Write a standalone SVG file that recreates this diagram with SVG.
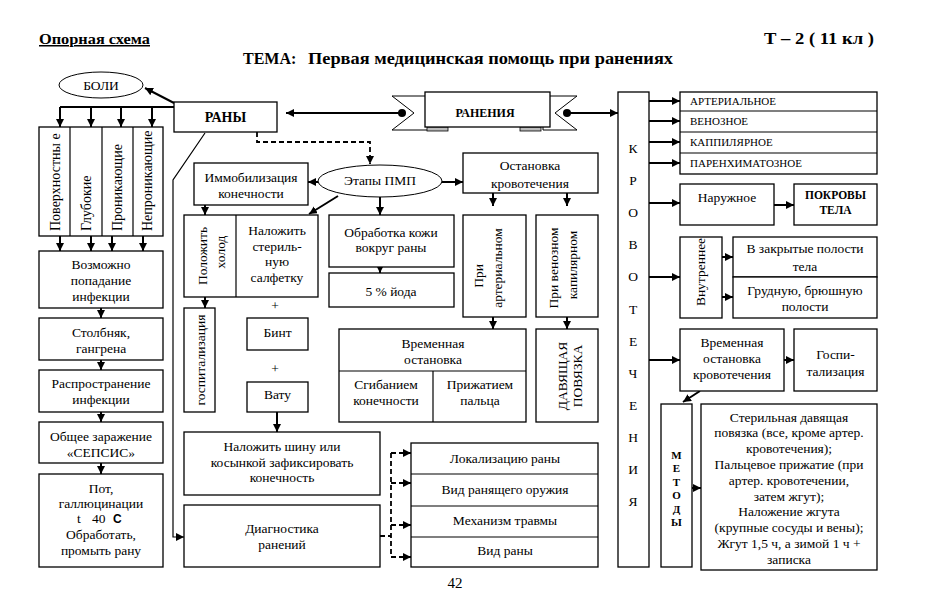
<svg xmlns="http://www.w3.org/2000/svg" width="926" height="591" viewBox="0 0 926 591">
<defs>
<marker id="ah" markerUnits="userSpaceOnUse" markerWidth="9" markerHeight="8" refX="8" refY="4" orient="auto"><path d="M0,0 L8,4 L0,8 z" fill="#000"/></marker>
<marker id="dot" markerUnits="userSpaceOnUse" markerWidth="10" markerHeight="10" refX="5" refY="5"><circle cx="5" cy="5" r="4" fill="#000"/></marker>
<style>
.b{fill:#fff;stroke:#000;stroke-width:1.3}
.t{font-size:13.5px;text-anchor:middle;fill:#000}
.s{font-size:11px;fill:#000}
.bd{font-weight:bold}
.c{stroke:#000;stroke-width:2;fill:none;marker-end:url(#ah)}
.l{stroke:#000;stroke-width:1.2;fill:none}
.d{stroke:#000;stroke-width:1.8;fill:none;stroke-dasharray:5,3}
.dm{marker-end:url(#ah)}
</style>
</defs>
<rect width="926" height="591" fill="#fff"/>
<g font-family="Liberation Serif, Tinos, Times New Roman, DejaVu Serif, Noto Serif, serif">

<g id="header">
<text x="39" y="44" class="t bd" style="text-anchor:start;font-size:15px;text-decoration:underline" textLength="111" lengthAdjust="spacingAndGlyphs">Опорная схема</text>
<text x="764" y="44" class="t bd" style="text-anchor:start;font-size:16px" textLength="110" lengthAdjust="spacingAndGlyphs">Т –  2 ( 11 кл )</text>
<text x="243" y="64" class="t bd" style="text-anchor:start;font-size:16px">ТЕМА:</text>
<text x="308" y="64" class="t bd" style="text-anchor:start;font-size:17px" textLength="365" lengthAdjust="spacingAndGlyphs">Первая медицинская помощь при ранениях</text>
<text x="455" y="588" class="t" style="font-size:15px">42</text>
</g>

<g id="connectors">
<line x1="174" y1="103" x2="145" y2="88" class="c"/>
<line x1="60" y1="107" x2="174" y2="107" class="l" style="stroke-width:2"/>
<line x1="60" y1="107" x2="60" y2="127" class="c"/>
<line x1="91" y1="107" x2="91" y2="127" class="c"/>
<line x1="121" y1="107" x2="121" y2="127" class="c"/>
<line x1="152" y1="107" x2="152" y2="127" class="c"/>
<line x1="60" y1="236" x2="60" y2="251" class="c"/>
<line x1="91" y1="236" x2="91" y2="251" class="c"/>
<line x1="112" y1="236" x2="112" y2="251" class="c"/>
<line x1="143" y1="236" x2="143" y2="251" class="c"/>
<line x1="101" y1="308" x2="101" y2="318" class="c"/>
<line x1="101" y1="360" x2="101" y2="370" class="c"/>
<line x1="101" y1="412" x2="101" y2="422" class="c"/>
<line x1="101" y1="463" x2="101" y2="474" class="c"/>
<polyline points="205,133 173,180 173,537 184,537" class="l dm"/>
<polyline points="257,132 257,142 370,142 370,164" class="d dm"/>
<line x1="402" y1="113" x2="286" y2="113" class="c" style="marker-start:url(#dot)"/>
<line x1="567" y1="113" x2="618" y2="113" class="c" style="marker-start:url(#dot)"/>
<line x1="318" y1="182" x2="308" y2="182" class="c"/>
<line x1="442" y1="182" x2="463" y2="182" class="c"/>
<line x1="380" y1="196" x2="380" y2="215" class="c"/>
<line x1="338" y1="196" x2="309" y2="214" class="c"/>
<line x1="205" y1="205" x2="205" y2="215" class="c"/>
<line x1="205" y1="297" x2="205" y2="308" class="c"/>
<line x1="380" y1="267" x2="380" y2="273" class="c"/>
<line x1="493" y1="193" x2="493" y2="206" class="c"/>
<line x1="567" y1="193" x2="567" y2="206" class="c"/>
<line x1="493" y1="317" x2="493" y2="329" class="c"/>
<line x1="567" y1="317" x2="567" y2="329" class="c"/>
<line x1="277" y1="412" x2="277" y2="432" class="c"/>
<line x1="380" y1="536" x2="391" y2="536" class="d"/>
<line x1="391" y1="453" x2="391" y2="557" class="d"/>
<line x1="391" y1="453" x2="411" y2="453" class="d dm"/>
<line x1="391" y1="483" x2="411" y2="483" class="d dm"/>
<line x1="391" y1="525" x2="411" y2="525" class="d dm"/>
<line x1="391" y1="557" x2="411" y2="557" class="d dm"/>
<line x1="649" y1="101" x2="680" y2="101" class="c"/>
<line x1="649" y1="121" x2="680" y2="121" class="c"/>
<line x1="649" y1="142" x2="680" y2="142" class="c"/>
<line x1="649" y1="163" x2="680" y2="163" class="c"/>
<line x1="649" y1="203" x2="680" y2="203" class="c"/>
<line x1="649" y1="277" x2="680" y2="277" class="c"/>
<line x1="649" y1="360" x2="680" y2="360" class="c"/>
<line x1="774" y1="205" x2="794" y2="205" class="c"/>
<line x1="722" y1="257" x2="733" y2="257" class="c"/>
<line x1="722" y1="297" x2="733" y2="297" class="c"/>
<line x1="784" y1="360" x2="794" y2="360" class="c"/>
<line x1="700" y1="391" x2="683" y2="402" class="c"/>
<line x1="692" y1="488" x2="701" y2="488" class="c"/>
</g>

<g id="boli">
<ellipse cx="101" cy="85" rx="42" ry="13" class="b" style="stroke-width:1"/>
<text x="101" y="90" class="t">БОЛИ</text>
</g>

<g id="rany">
<rect x="174" y="102" width="103" height="30" class="b"/>
<text x="225.5" y="122" class="t bd" style="font-size:14px">РАНЫ</text>
</g>

<g id="raneniya">
<polygon points="392,96 432,96 432,130 392,130 414,113" class="b" style="stroke-width:1"/>
<polygon points="577,96 543,96 543,130 577,130 555,113" class="b" style="stroke-width:1"/>
<rect x="427" y="127" width="21" height="4" fill="#bbb" stroke="#000" stroke-width="0.8"/>
<rect x="520" y="127" width="21" height="4" fill="#bbb" stroke="#000" stroke-width="0.8"/>
<rect x="425" y="92" width="125" height="35" class="b"/>
<text x="485" y="117" class="t bd" style="font-size:12px">РАНЕНИЯ</text>
</g>

<g id="wound-types">
<rect x="39" y="127" width="124" height="109" class="b"/>
<line x1="70" y1="127" x2="70" y2="236" class="l"/>
<line x1="102" y1="127" x2="102" y2="236" class="l"/>
<line x1="133" y1="127" x2="133" y2="236" class="l"/>
<text transform="translate(59.5,231) rotate(-90)" class="t" style="text-anchor:start;font-size:14px">Поверхностны е</text>
<text transform="translate(90.5,231) rotate(-90)" class="t" style="text-anchor:start;font-size:14px">Глубокие</text>
<text transform="translate(121.5,231) rotate(-90)" class="t" style="text-anchor:start;font-size:14px">Проникающие</text>
<text transform="translate(152,231) rotate(-90)" class="t" style="text-anchor:start;font-size:14px">Непроникающие</text>
</g>

<g id="infection">
<rect x="39" y="251" width="124" height="57" class="b"/>
<text x="101" y="269" class="t">Возможно</text>
<text x="101" y="285" class="t">попадание</text>
<text x="101" y="301" class="t">инфекции</text>
</g>
<g id="tetanus">
<rect x="39" y="318" width="124" height="42" class="b"/>
<text x="101" y="337" class="t">Столбняк,</text>
<text x="101" y="353" class="t">гангрена</text>
</g>
<g id="spread">
<rect x="39" y="370" width="124" height="42" class="b"/>
<text x="101" y="388" class="t">Распространение</text>
<text x="101" y="404" class="t">инфекции</text>
</g>
<g id="sepsis">
<rect x="39" y="422" width="124" height="41" class="b"/>
<text x="101" y="441" class="t">Общее заражение</text>
<text x="101" y="457" class="t">«СЕПСИС»</text>
</g>
<g id="sweat">
<rect x="39" y="474" width="124" height="93" class="b"/>
<text x="101" y="493" class="t">Пот,</text>
<text x="101" y="508" class="t">галлюцинации</text>
<text y="523" class="t" style="text-anchor:start"><tspan x="77">t</tspan><tspan x="92">40</tspan><tspan x="113" font-family="Liberation Sans, Arial, sans-serif" style="font-weight:bold;font-size:12px">C</tspan></text>
<text x="101" y="539" class="t">Обработать,</text>
<text x="101" y="555" class="t">промыть рану</text>
</g>

<g id="immobil">
<rect x="194" y="163" width="114" height="42" class="b"/>
<text x="251" y="182" class="t" textLength="93" lengthAdjust="spacing">Иммобилизация</text>
<text x="251" y="198" class="t">конечности</text>
</g>
<g id="etapy">
<ellipse cx="380" cy="181" rx="62" ry="16" class="b" style="stroke-width:1"/>
<text x="380" y="185" class="t">Этапы ПМП</text>
</g>
<g id="ostanovka">
<rect x="463" y="153" width="135" height="40" class="b"/>
<text x="530" y="170" class="t">Остановка</text>
<text x="530" y="188" class="t">кровотечения</text>
</g>
<g id="cold">
<rect x="184" y="215" width="134" height="82" class="b"/>
<line x1="236" y1="215" x2="236" y2="297" class="l"/>
<text transform="translate(206.5,256) rotate(-90)" class="t">Положить</text>
<text transform="translate(224.5,252) rotate(-90)" class="t">холод</text>
<text x="277" y="235" class="t">Наложить</text>
<text x="277" y="251" class="t">стериль-</text>
<text x="277" y="266" class="t">ную</text>
<text x="277" y="282" class="t">салфетку</text>
</g>
<g id="skin">
<rect x="329" y="215" width="125" height="52" class="b"/>
<text x="391" y="237" class="t">Обработка кожи</text>
<text x="391" y="252" class="t">вокруг раны</text>
</g>
<g id="iodine">
<rect x="329" y="273" width="125" height="34" class="b"/>
<text x="391" y="296" class="t">5 % йода</text>
</g>
<g id="arterial">
<rect x="463" y="215" width="63" height="102" class="b"/>
<text transform="translate(482.5,276) rotate(-90)" class="t">При</text>
<text transform="translate(501.5,268) rotate(-90)" class="t">артериальном</text>
</g>
<g id="venous">
<rect x="536" y="215" width="62" height="102" class="b"/>
<text transform="translate(557.5,268) rotate(-90)" class="t">При венозном</text>
<text transform="translate(576.5,265) rotate(-90)" class="t">капилярном</text>
</g>
<g id="hospital1">
<rect x="184" y="308" width="31" height="104" class="b"/>
<text transform="translate(204.5,360) rotate(-90)" class="t">госпитализация</text>
</g>
<g id="plus">
<text x="275" y="310" class="t">+</text>
<text x="275" y="373" class="t">+</text>
</g>
<g id="bint">
<rect x="247" y="318" width="61" height="32" class="b"/>
<text x="277.5" y="337" class="t">Бинт</text>
</g>
<g id="vatu">
<rect x="247" y="382" width="61" height="30" class="b"/>
<text x="277.5" y="399" class="t">Вату</text>
</g>
<g id="temp-stop">
<rect x="339" y="329" width="187" height="93" class="b"/>
<line x1="339" y1="371" x2="526" y2="371" class="l"/>
<line x1="433" y1="371" x2="433" y2="422" class="l"/>
<text x="433" y="348" class="t">Временная</text>
<text x="433" y="364" class="t">остановка</text>
<text x="386" y="389" class="t">Сгибанием</text>
<text x="386" y="405" class="t">конечности</text>
<text x="480" y="389" class="t">Прижатием</text>
<text x="480" y="405" class="t">пальца</text>
</g>
<g id="pressure">
<rect x="536" y="329" width="62" height="93" class="b"/>
<text transform="translate(566.5,376) rotate(-90)" class="t">ДАВЯЩАЯ</text>
<text transform="translate(581.5,376) rotate(-90)" class="t">ПОВЯЗКА</text>
</g>
<g id="splint">
<rect x="184" y="432" width="196" height="63" class="b"/>
<text x="282" y="451" class="t">Наложить шину или</text>
<text x="282" y="467" class="t">косынкой зафиксировать</text>
<text x="282" y="482" class="t">конечность</text>
</g>
<g id="diagnostics">
<rect x="184" y="505" width="196" height="62" class="b"/>
<text x="282" y="533" class="t">Диагностика</text>
<text x="282" y="549" class="t">ранений</text>
</g>
<g id="diag-list">
<rect x="411" y="443" width="187" height="124" class="b"/>
<line x1="411" y1="474" x2="598" y2="474" class="l"/>
<line x1="411" y1="506" x2="598" y2="506" class="l"/>
<line x1="411" y1="537" x2="598" y2="537" class="l"/>
<text x="505" y="463" class="t">Локализацию раны</text>
<text x="505" y="494" class="t">Вид ранящего оружия</text>
<text x="505" y="525" class="t">Механизм травмы</text>
<text x="505" y="555" class="t">Вид раны</text>
</g>

<g id="krovotechenie">
<rect x="618" y="92" width="31" height="475" class="b"/>
<text x="633" y="153" class="t">К</text>
<text x="633" y="185" class="t">Р</text>
<text x="633" y="217" class="t">О</text>
<text x="633" y="249" class="t">В</text>
<text x="633" y="281" class="t">О</text>
<text x="633" y="314" class="t">Т</text>
<text x="633" y="346" class="t">Е</text>
<text x="633" y="378" class="t">Ч</text>
<text x="633" y="410" class="t">Е</text>
<text x="633" y="442" class="t">Н</text>
<text x="633" y="474" class="t">И</text>
<text x="633" y="506" class="t">Я</text>
</g>
<g id="types">
<rect x="680" y="92" width="197" height="82" class="b"/>
<line x1="680" y1="111" x2="877" y2="111" class="l"/>
<line x1="680" y1="132" x2="877" y2="132" class="l"/>
<line x1="680" y1="153" x2="877" y2="153" class="l"/>
<text x="690" y="105" class="s">АРТЕРИАЛЬНОЕ</text>
<text x="690" y="125" class="s">ВЕНОЗНОЕ</text>
<text x="690" y="146" class="s">КАППИЛЯРНОЕ</text>
<text x="690" y="167" class="s">ПАРЕНХИМАТОЗНОЕ</text>
</g>
<g id="external">
<rect x="680" y="184" width="94" height="41" class="b"/>
<text x="727" y="202" class="t">Наружное</text>
</g>
<g id="skin-cover">
<rect x="794" y="184" width="83" height="41" class="b"/>
<text x="835.5" y="199" class="t bd" style="font-size:11.5px">ПОКРОВЫ</text>
<text x="835.5" y="214" class="t bd" style="font-size:11.5px">ТЕЛА</text>
</g>
<g id="internal">
<rect x="680" y="237" width="42" height="81" class="b"/>
<text transform="translate(704.5,272) rotate(-90)" class="t">Внутреннее</text>
</g>
<g id="closed-cavities">
<rect x="733" y="237" width="144" height="40" class="b"/>
<text x="805" y="253" class="t">В закрытые полости</text>
<text x="805" y="271" class="t">тела</text>
</g>
<g id="chest">
<rect x="733" y="277" width="144" height="41" class="b"/>
<text x="805" y="295" class="t">Грудную, брюшную</text>
<text x="805" y="311" class="t">полости</text>
</g>
<g id="temp-stop2">
<rect x="680" y="329" width="104" height="62" class="b"/>
<text x="732" y="347" class="t">Временная</text>
<text x="732" y="363" class="t">остановка</text>
<text x="732" y="379" class="t">кровотечения</text>
</g>
<g id="hospital2">
<rect x="794" y="329" width="83" height="62" class="b"/>
<text x="835.5" y="359" class="t">Госпи-</text>
<text x="835.5" y="376" class="t">тализация</text>
</g>
<g id="methods">
<rect x="661" y="404" width="31" height="163" class="b"/>
<text x="676.5" y="459" class="t bd" style="font-size:11px">М</text>
<text x="676.5" y="472" class="t bd" style="font-size:11px">Е</text>
<text x="676.5" y="486" class="t bd" style="font-size:11px">Т</text>
<text x="676.5" y="499" class="t bd" style="font-size:11px">О</text>
<text x="676.5" y="513" class="t bd" style="font-size:11px">Д</text>
<text x="676.5" y="526" class="t bd" style="font-size:11px">Ы</text>
</g>
<g id="methods-list">
<rect x="701" y="404" width="176" height="166" class="b"/>
<text x="789" y="421.5" class="t">Стерильная давящая</text>
<text x="789" y="437.3" class="t">повязка (все, кроме артер.</text>
<text x="789" y="453.1" class="t">кровотечения);</text>
<text x="789" y="468.9" class="t">Пальцевое прижатие (при</text>
<text x="789" y="484.7" class="t">артер.  кровотечении,</text>
<text x="789" y="500.5" class="t">затем жгут);</text>
<text x="789" y="516.3" class="t">Наложение жгута</text>
<text x="789" y="532.1" class="t">(крупные сосуды и вены);</text>
<text x="789" y="547.9" class="t">Жгут 1,5 ч, а зимой 1 ч +</text>
<text x="789" y="563.7" class="t">записка</text>
</g>
</g>
</svg>
